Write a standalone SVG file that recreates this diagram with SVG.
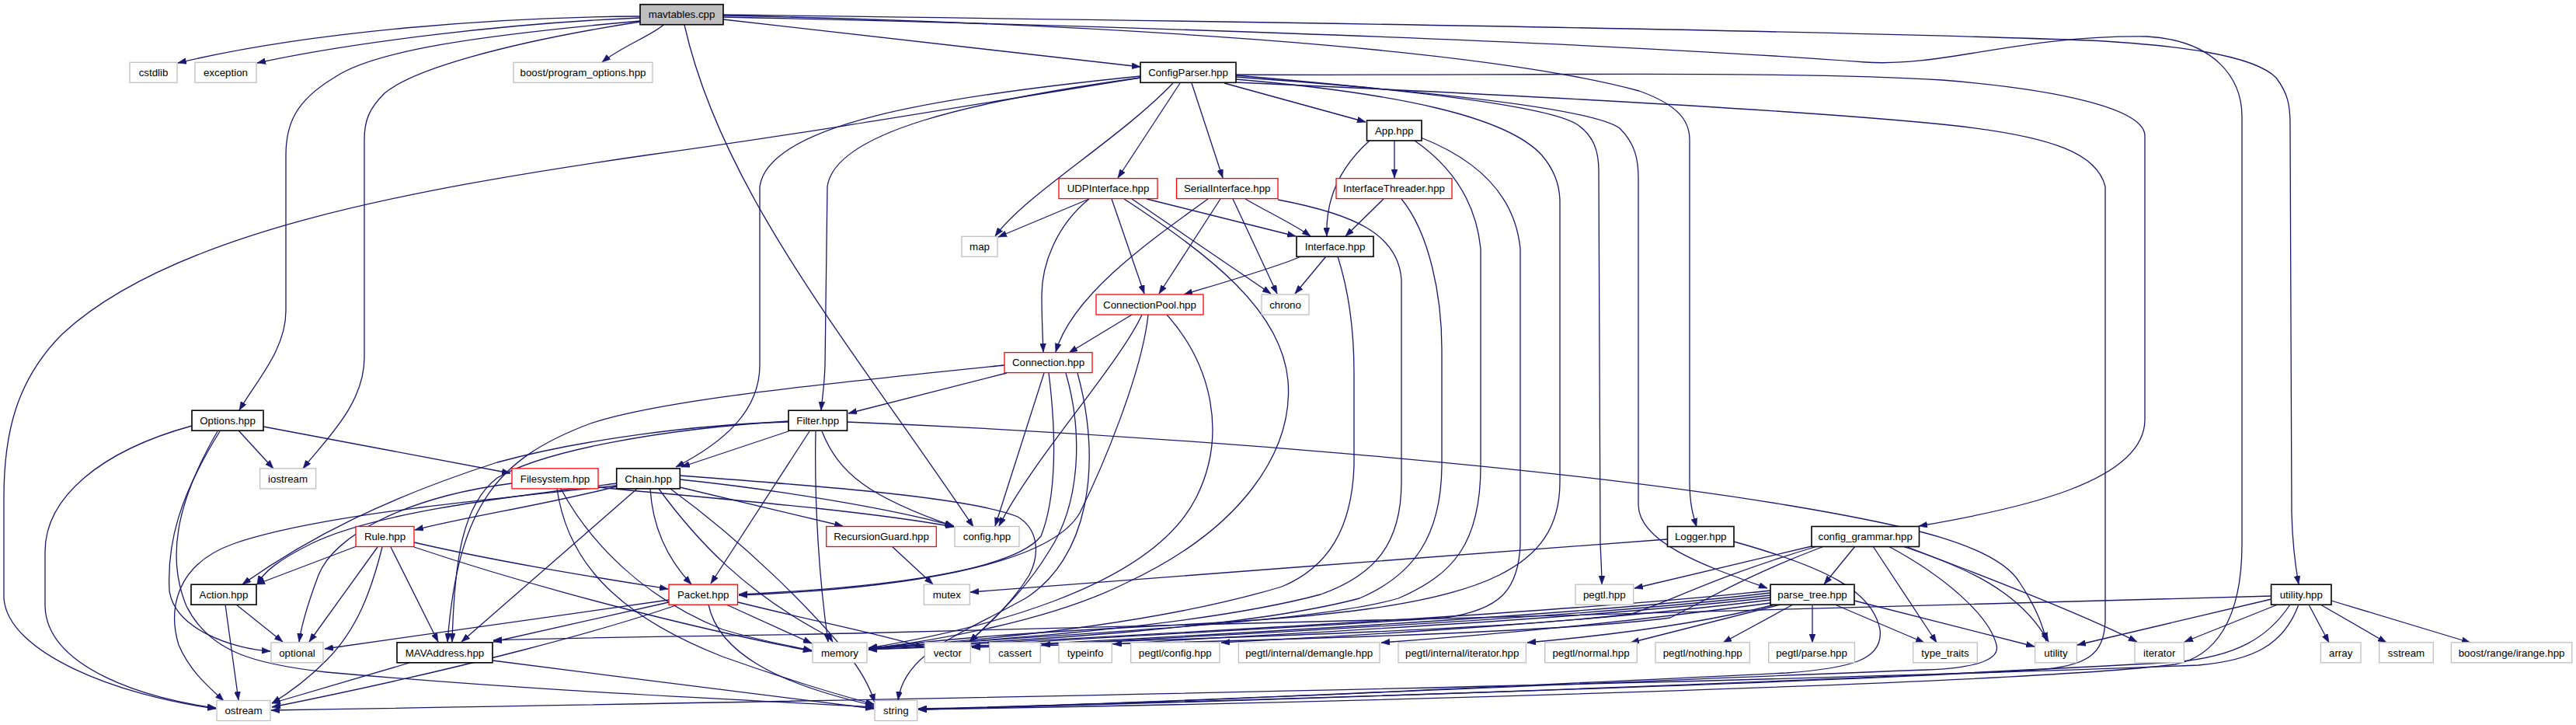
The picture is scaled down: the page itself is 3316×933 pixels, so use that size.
<svg xmlns="http://www.w3.org/2000/svg" width="3316" height="933" viewBox="0 0 3316 933">
<defs>
<marker id="ah" viewBox="0 0 11 8" refX="11" refY="4" markerWidth="11" markerHeight="8" markerUnits="userSpaceOnUse" orient="auto">
<path d="M0,0 L11,4 L0,8 z" fill="#191970" stroke="#191970" stroke-width="0.5"/>
</marker>
</defs>
<style>
.e path{fill:none;stroke:#191970;stroke-width:1.3;marker-end:url(#ah)}
rect{height:26px}
.nb rect{fill:#fff;stroke:#000;stroke-width:1.6}
.nr rect{fill:#fff;stroke:#ff0000;stroke-width:1.3}
.ng rect{fill:#fff;stroke:#bfbfbf;stroke-width:1.3}
.nm rect{fill:#bfbfbf;stroke:#000;stroke-width:1.6}
text{font-family:"Liberation Sans",Arial,Helvetica,sans-serif;font-size:13.3px;text-anchor:middle;fill:#000}
</style>
<rect x="0" y="0" width="3316" height="933" fill="#fff" style="height:933px"/>
<g class="e" id="edges">
<path d="M824,21 C640,22 400,40 229,81"/>
<path d="M824,23 C650,30 450,55 331,81"/>
<path d="M854,32 C840,45 800,60 775,80"/>
<path d="M931,25 L1468,86"/>
<path d="M824,27 C620,45 480,65 430,100 C380,130 368,160 368,200 L368,400 C368,450 330,490 308,528"/>
<path d="M824,28 C650,55 530,90 495,120 C475,140 469,155 469,180 L469,460 C469,520 420,565 390,603"/>
<path d="M881,32 C930,250 1100,450 1253,678"/>
<path d="M931,20 C1400,30 1900,60 2110,117 C2160,135 2175,155 2175,180 L2175,620 C2175,650 2180,665 2184,678"/>
<path d="M931,19 C1400,25 2300,38 2690,52 C2800,58 2900,70 2930,100 C2945,120 2948,135 2948,160 L2950,660 C2951,700 2955,730 2959,752"/>
<path d="M931,22 C1300,30 2000,50 2401,80 C2500,87 2600,45 2764,47 C2850,52 2886,100 2886,150 L2886,700 C2886,800 2850,845 2800,855 C2600,880 1700,905 1182,913"/>
<path d="M1468,100 C1250,135 1050,170 830,200 C520,245 220,300 80,430 C20,490 5,560 5,640 L5,770 C10,840 150,895 278,912"/>
<path d="M1468,98 C1200,125 990,160 978,240 L978,470 C978,530 930,570 870,601"/>
<path d="M1468,100 C1250,130 1075,170 1065,240 L1062,470 C1061,500 1058,515 1057,528"/>
<path d="M1510,107 C1440,180 1320,250 1281,304"/>
<path d="M1519,107 L1439,229"/>
<path d="M1534,107 L1574,229"/>
<path d="M1576,107 L1758,157"/>
<path d="M1591,97 C1800,115 1990,135 2030,160 C2052,175 2058,195 2058,220 L2060,700 C2061,720 2062,740 2062,752"/>
<path d="M1591,99 C1850,118 2050,140 2085,165 C2105,185 2109,205 2109,230 L2109,650 C2110,700 2200,730 2275,757"/>
<path d="M1591,102 C1800,120 1940,150 1985,200 C2002,220 2008,240 2008,260 L2008,620 C2008,680 1980,715 1930,740 C1850,780 1700,795 1500,805 C1300,815 1180,825 1118,836"/>
<path d="M1591,96 C1900,98 2300,90 2500,103 C2650,115 2761,140 2761,175 L2761,540 C2761,620 2600,655 2470,677"/>
<path d="M1591,106 C1900,120 2300,140 2500,160 C2650,175 2700,200 2710,240 L2710,800 C2708,840 2690,858 2620,862 C2300,880 1600,902 1182,912"/>
<path d="M1795,181 L1795,229"/>
<path d="M1763,181 C1725,215 1706,255 1708,304"/>
<path d="M1821,181 C1870,215 1900,260 1906,320 L1906,600 C1906,700 1870,740 1800,770 C1700,800 1400,815 1118,834"/>
<path d="M1829,177 C1900,205 1950,250 1957,320 L1957,700 C1955,760 1930,785 1860,795 C1600,812 1400,820 1251,832"/>
<path d="M1781,256 L1732,304"/>
<path d="M1804,256 C1840,300 1856,380 1856,450 L1856,600 C1855,690 1820,740 1750,770 C1600,810 1300,825 1118,835"/>
<path d="M1402,256 L1285,305"/>
<path d="M1402,256 C1360,290 1341,340 1341,380 C1341,410 1342,430 1343,453"/>
<path d="M1431,256 L1473,378"/>
<path d="M1447,256 C1560,330 1650,400 1658,490 C1665,580 1600,680 1450,750 C1350,800 1200,825 1118,835"/>
<path d="M1457,256 L1636,378"/>
<path d="M1476,256 L1668,304"/>
<path d="M1555,256 C1480,310 1380,380 1359,453"/>
<path d="M1571,256 L1492,378"/>
<path d="M1587,256 L1644,378"/>
<path d="M1603,256 C1630,272 1665,288 1687,304"/>
<path d="M1645,257 C1740,275 1800,300 1804,360 L1804,620 C1804,700 1770,740 1700,765 C1550,805 1300,822 1118,835"/>
<path d="M1675,330 C1640,345 1570,365 1524,379"/>
<path d="M1707,330 L1667,378"/>
<path d="M1722,330 C1738,380 1743,430 1743,480 L1743,600 C1740,680 1710,730 1650,755 C1500,800 1300,822 1118,834"/>
<path d="M1457,405 L1376,454"/>
<path d="M1470,405 C1440,470 1330,590 1286,677"/>
<path d="M1478,405 C1470,480 1420,600 1390,660 C1350,730 1150,758 951,766"/>
<path d="M1502,405 C1560,470 1580,560 1540,640 C1480,760 1250,812 1118,834"/>
<path d="M1296,480 L1092,532"/>
<path d="M1293,470 C1050,495 850,515 760,545 C640,590 590,650 576,826"/>
<path d="M1344,480 L1281,677"/>
<path d="M1350,480 C1360,560 1360,640 1340,690 C1300,740 1100,758 951,765"/>
<path d="M1372,480 C1395,560 1390,650 1350,710 C1320,760 1280,795 1248,826"/>
<path d="M1387,480 C1420,600 1400,720 1320,770 C1230,820 1165,840 1156,901"/>
<path d="M307,554 L352,603"/>
<path d="M339,549 L657,609"/>
<path d="M247,548 C130,580 58,640 58,710 L58,780 C60,860 190,900 278,911"/>
<path d="M283,555 C230,640 215,700 218,760 C225,810 300,835 348,838"/>
<path d="M280,555 C225,650 215,720 240,780 C270,840 330,855 420,865 C700,890 950,900 1125,910"/>
<path d="M659,622 C520,640 430,690 410,740 C395,780 388,805 385,826"/>
<path d="M722,629 C760,700 830,770 930,810 C980,825 1010,830 1045,837"/>
<path d="M717,629 C730,720 790,790 930,845 C1000,870 1080,895 1125,906"/>
<path d="M770,627 C900,640 1100,655 1228,678"/>
<path d="M794,622 C650,640 480,660 400,700 C360,720 340,735 331,752"/>
<path d="M794,626 C700,650 600,665 534,682"/>
<path d="M794,625 C600,645 400,665 300,700 C230,725 215,780 230,830 C245,865 270,885 288,902"/>
<path d="M837,629 C840,680 860,720 890,752"/>
<path d="M820,629 L594,826"/>
<path d="M848,629 C900,700 960,760 1050,810 C1060,815 1068,820 1072,826"/>
<path d="M863,629 C960,700 1040,780 1090,840 C1110,865 1120,885 1126,904"/>
<path d="M875,627 L1085,677"/>
<path d="M875,617 C1000,630 1150,655 1228,677"/>
<path d="M875,612 C1050,625 1250,640 1310,665 C1335,680 1340,710 1325,740 C1300,780 1270,805 1248,826"/>
<path d="M1148,703 L1201,752"/>
<path d="M1015,555 L877,601"/>
<path d="M1015,543 C900,546 750,565 640,595 C500,640 400,690 312,752"/>
<path d="M1015,542 C850,552 700,580 640,615 C595,650 585,720 582,826"/>
<path d="M1042,555 L915,751"/>
<path d="M1050,555 C1048,650 1055,750 1066,826"/>
<path d="M1058,555 C1080,610 1120,640 1227,677"/>
<path d="M1090,543 C1500,560 2000,600 2300,650 C2450,675 2570,700 2600,750 C2620,780 2630,805 2634,825"/>
<path d="M459,703 L330,752"/>
<path d="M486,704 L398,826"/>
<path d="M492,704 C478,760 460,810 420,850 C395,875 375,890 350,905"/>
<path d="M503,704 L564,826"/>
<path d="M533,698 C650,725 780,745 860,758"/>
<path d="M533,704 C700,760 900,810 1045,838"/>
<path d="M304,778 L364,826"/>
<path d="M290,778 L307,901"/>
<path d="M861,772 L418,835"/>
<path d="M861,775 L635,826"/>
<path d="M873,778 C780,810 600,860 350,910"/>
<path d="M935,778 L1045,828"/>
<path d="M950,775 C1050,800 1130,815 1189,833"/>
<path d="M912,778 C925,840 1000,880 1125,908"/>
<path d="M527,853 L350,905"/>
<path d="M634,850 C800,872 1000,895 1125,912"/>
<path d="M2146,694 C1900,710 1500,745 1249,762"/>
<path d="M2232,697 C2350,730 2410,760 2420,810 C2425,850 2380,860 2300,866 C1900,885 1500,905 1182,913"/>
<path d="M2332,703 L2104,757"/>
<path d="M2388,703 L2348,752"/>
<path d="M2411,703 L2493,827"/>
<path d="M2449,703 C2530,730 2600,760 2637,826"/>
<path d="M2453,703 C2550,740 2680,790 2751,826"/>
<path d="M2431,703 C2500,740 2560,790 2570,830 C2575,850 2540,860 2480,862 C2000,880 1500,905 1182,913"/>
<path d="M2339,703 C2200,745 2160,770 2100,790 C1900,815 1400,825 1118,836"/>
<path d="M2348,703 C2250,740 2200,770 2150,795 C2000,815 1600,825 1251,833"/>
<path d="M2279,760 C2000,790 1500,815 1118,836"/>
<path d="M2279,763 C2000,795 1500,820 1251,833"/>
<path d="M2279,766 C2000,798 1600,815 1341,830"/>
<path d="M2279,769 C2000,800 1650,815 1433,829"/>
<path d="M2279,772 C2050,800 1800,815 1572,827"/>
<path d="M2279,776 C2100,800 1950,815 1778,827"/>
<path d="M2285,778 C2200,800 2100,815 1966,827"/>
<path d="M2292,778 L2099,827"/>
<path d="M2308,778 L2218,827"/>
<path d="M2333,778 L2333,827"/>
<path d="M2362,778 L2477,827"/>
<path d="M2387,773 L2619,832"/>
<path d="M2924,771 L2674,830"/>
<path d="M2932,778 L2812,826"/>
<path d="M2972,778 L2998,827"/>
<path d="M2987,778 L3072,827"/>
<path d="M3001,773 L3180,827"/>
<path d="M2924,767 C2500,780 1500,805 1100,815 C900,819 700,821 635,824"/>
<path d="M2948,778 C2920,820 2880,845 2800,852 C2400,875 1700,900 1182,913"/>
<path d="M2959,778 C2940,830 2900,850 2830,856 C2200,880 1200,900 349,914"/>
</g>
<g id="n_mavtables" class="nm"><rect x="824" y="5.7" width="107"/><text x="877.5" y="23.4">mavtables.cpp</text></g>
<g id="n_cstdlib" class="ng"><rect x="167" y="80.3" width="61"/><text x="197.5" y="98">cstdlib</text></g>
<g id="n_exception" class="ng"><rect x="251" y="80.3" width="79"/><text x="290.5" y="98">exception</text></g>
<g id="n_boost_po" class="ng"><rect x="661" y="80.3" width="179"/><text x="750.5" y="98">boost/program_options.hpp</text></g>
<g id="n_configparser" class="nb"><rect x="1468" y="80.3" width="123"/><text x="1529.5" y="98">ConfigParser.hpp</text></g>
<g id="n_app" class="nb"><rect x="1759.5" y="155" width="70.5"/><text x="1794.7" y="172.7">App.hpp</text></g>
<g id="n_udp" class="nr"><rect x="1363" y="229.6" width="127"/><text x="1426.5" y="247.3">UDPInterface.hpp</text></g>
<g id="n_serial" class="nr"><rect x="1514.5" y="229.6" width="130.5"/><text x="1579.7" y="247.3">SerialInterface.hpp</text></g>
<g id="n_ithreader" class="nr"><rect x="1720" y="229.6" width="149"/><text x="1794.5" y="247.3">InterfaceThreader.hpp</text></g>
<g id="n_map" class="ng"><rect x="1238" y="304.3" width="46"/><text x="1261" y="322">map</text></g>
<g id="n_interface" class="nb"><rect x="1669" y="304.3" width="99"/><text x="1718.5" y="322">Interface.hpp</text></g>
<g id="n_connpool" class="nr"><rect x="1411" y="379" width="138"/><text x="1480" y="396.7">ConnectionPool.hpp</text></g>
<g id="n_chrono" class="ng"><rect x="1624" y="379" width="61"/><text x="1654.5" y="396.7">chrono</text></g>
<g id="n_connection" class="nr"><rect x="1293" y="453.6" width="113"/><text x="1349.5" y="471.3">Connection.hpp</text></g>
<g id="n_options" class="nb"><rect x="247" y="528.2" width="92"/><text x="293" y="546">Options.hpp</text></g>
<g id="n_filter" class="nb"><rect x="1015" y="528.2" width="75.5"/><text x="1052.7" y="546">Filter.hpp</text></g>
<g id="n_iostream" class="ng"><rect x="334.6" y="602.9" width="72"/><text x="370.6" y="620.6">iostream</text></g>
<g id="n_filesystem" class="nr"><rect x="659" y="602.9" width="111"/><text x="714.5" y="620.6">Filesystem.hpp</text></g>
<g id="n_chain" class="nb"><rect x="793.7" y="602.9" width="81.6"/><text x="834.5" y="620.6">Chain.hpp</text></g>
<g id="n_rule" class="nr"><rect x="458" y="677.5" width="75"/><text x="495.5" y="695.2">Rule.hpp</text></g>
<g id="n_recguard" class="nr"><rect x="1063.7" y="677.5" width="141.6"/><text x="1134.5" y="695.2">RecursionGuard.hpp</text></g>
<g id="n_config" class="ng"><rect x="1229" y="677.5" width="83"/><text x="1270.5" y="695.2">config.hpp</text></g>
<g id="n_logger" class="nb"><rect x="2146.5" y="677.5" width="85.5"/><text x="2189.2" y="695.2">Logger.hpp</text></g>
<g id="n_cgrammar" class="nb"><rect x="2332" y="677.5" width="138.5"/><text x="2401.2" y="695.2">config_grammar.hpp</text></g>
<g id="n_action" class="nb"><rect x="246" y="752.2" width="84"/><text x="288" y="769.9">Action.hpp</text></g>
<g id="n_packet" class="nr"><rect x="861" y="752.2" width="88.5"/><text x="905.2" y="769.9">Packet.hpp</text></g>
<g id="n_mutex" class="ng"><rect x="1189.3" y="752.2" width="59"/><text x="1218.8" y="769.9">mutex</text></g>
<g id="n_pegtl" class="ng"><rect x="2028" y="752.2" width="74.6"/><text x="2065.3" y="769.9">pegtl.hpp</text></g>
<g id="n_parsetree" class="nb"><rect x="2279" y="752.2" width="108"/><text x="2333" y="769.9">parse_tree.hpp</text></g>
<g id="n_utilityhpp" class="nb"><rect x="2923.6" y="752.2" width="77.4"/><text x="2962.3" y="769.9">utility.hpp</text></g>
<g id="n_optional" class="ng"><rect x="349" y="826.8" width="67"/><text x="382.5" y="844.5">optional</text></g>
<g id="n_mavaddress" class="nb"><rect x="511" y="826.8" width="123"/><text x="572.5" y="844.5">MAVAddress.hpp</text></g>
<g id="n_memory" class="ng"><rect x="1046" y="826.8" width="70"/><text x="1081" y="844.5">memory</text></g>
<g id="n_vector" class="ng"><rect x="1190.3" y="826.8" width="59"/><text x="1219.8" y="844.5">vector</text></g>
<g id="n_cassert" class="ng"><rect x="1273.7" y="826.8" width="65.6"/><text x="1306.5" y="844.5">cassert</text></g>
<g id="n_typeinfo" class="ng"><rect x="1363" y="826.8" width="68.3"/><text x="1397.1" y="844.5">typeinfo</text></g>
<g id="n_pegtl_config" class="ng"><rect x="1455.7" y="826.8" width="114.3"/><text x="1512.8" y="844.5">pegtl/config.hpp</text></g>
<g id="n_pegtl_demangle" class="ng"><rect x="1594.4" y="826.8" width="181.6"/><text x="1685.2" y="844.5">pegtl/internal/demangle.hpp</text></g>
<g id="n_pegtl_iterator" class="ng"><rect x="1800" y="826.8" width="164.4"/><text x="1882.2" y="844.5">pegtl/internal/iterator.hpp</text></g>
<g id="n_pegtl_normal" class="ng"><rect x="1988.7" y="826.8" width="118.6"/><text x="2048" y="844.5">pegtl/normal.hpp</text></g>
<g id="n_pegtl_nothing" class="ng"><rect x="2131" y="826.8" width="121.4"/><text x="2191.7" y="844.5">pegtl/nothing.hpp</text></g>
<g id="n_pegtl_parse" class="ng"><rect x="2276.7" y="826.8" width="110.7"/><text x="2332" y="844.5">pegtl/parse.hpp</text></g>
<g id="n_type_traits" class="ng"><rect x="2462.6" y="826.8" width="82.7"/><text x="2504" y="844.5">type_traits</text></g>
<g id="n_utility" class="ng"><rect x="2619.6" y="826.8" width="53.8"/><text x="2646.5" y="844.5">utility</text></g>
<g id="n_iterator" class="ng"><rect x="2748" y="826.8" width="63.4"/><text x="2779.7" y="844.5">iterator</text></g>
<g id="n_array" class="ng"><rect x="2987.4" y="826.8" width="51.6"/><text x="3013.2" y="844.5">array</text></g>
<g id="n_sstream" class="ng"><rect x="3062.7" y="826.8" width="69.6"/><text x="3097.5" y="844.5">sstream</text></g>
<g id="n_irange" class="ng"><rect x="3155.4" y="826.8" width="155.4"/><text x="3233.1" y="844.5">boost/range/irange.hpp</text></g>
<g id="n_ostream" class="ng"><rect x="279" y="901.5" width="69"/><text x="313.5" y="919.2">ostream</text></g>
<g id="n_string" class="ng"><rect x="1126" y="901.5" width="54.7"/><text x="1153.3" y="919.2">string</text></g>
</svg>
